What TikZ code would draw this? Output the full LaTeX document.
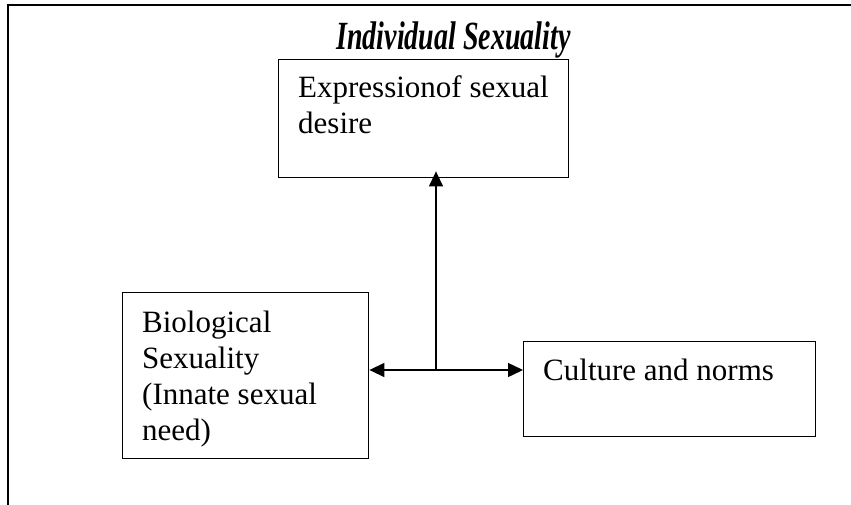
\documentclass[tikz,border=0pt]{standalone}
\usepackage{fontspec}
\setmainfont{Liberation Serif}
\usetikzlibrary{arrows.meta}
\begin{document}
\begin{tikzpicture}[x=1pt,y=-1pt,
  box/.style={draw, line width=1.4pt, inner sep=0pt, anchor=north west},
  txt/.style={anchor=base west, inner sep=0pt, align=left, font=\fontsize{31}{36}\selectfont},
  conn/.style={line width=1.4pt, -{Triangle[length=15pt,width=14pt]}},
  frame/.style={line width=2pt}
]
\useasboundingbox (0,0) rectangle (851,505);
\draw[frame] (851,5) -- (8,5) -- (8,505);
\node[anchor=base, inner sep=0pt, font=\fontsize{40}{44}\selectfont\bfseries\itshape] (title) at (453.5,50) {\scalebox{0.70}[1]{Individual Sexuality}};
\node[box, minimum width=290pt, minimum height=118pt] (expr) at (278,59) {};
\node[box, minimum width=246pt, minimum height=166pt] (bio) at (122,292) {};
\node[box, minimum width=292pt, minimum height=95pt] (cult) at (523,341) {};
\node[txt] (exprtxt) at (298,134) {Expressionof sexual\\desire};
\node[txt] (biotxt) at (142,440) {Biological\\Sexuality\\(Innate sexual\\need)};
\node[txt] (culttxt) at (543,380) {Culture and norms};
\coordinate (junc) at (436,370);
\draw[conn, shorten >=-7pt] (junc) -- (junc |- expr.south);
\draw[conn] (junc) -- (junc -| bio.east);
\draw[conn] (junc) -- (junc -| cult.west);
\end{tikzpicture}
\end{document}
